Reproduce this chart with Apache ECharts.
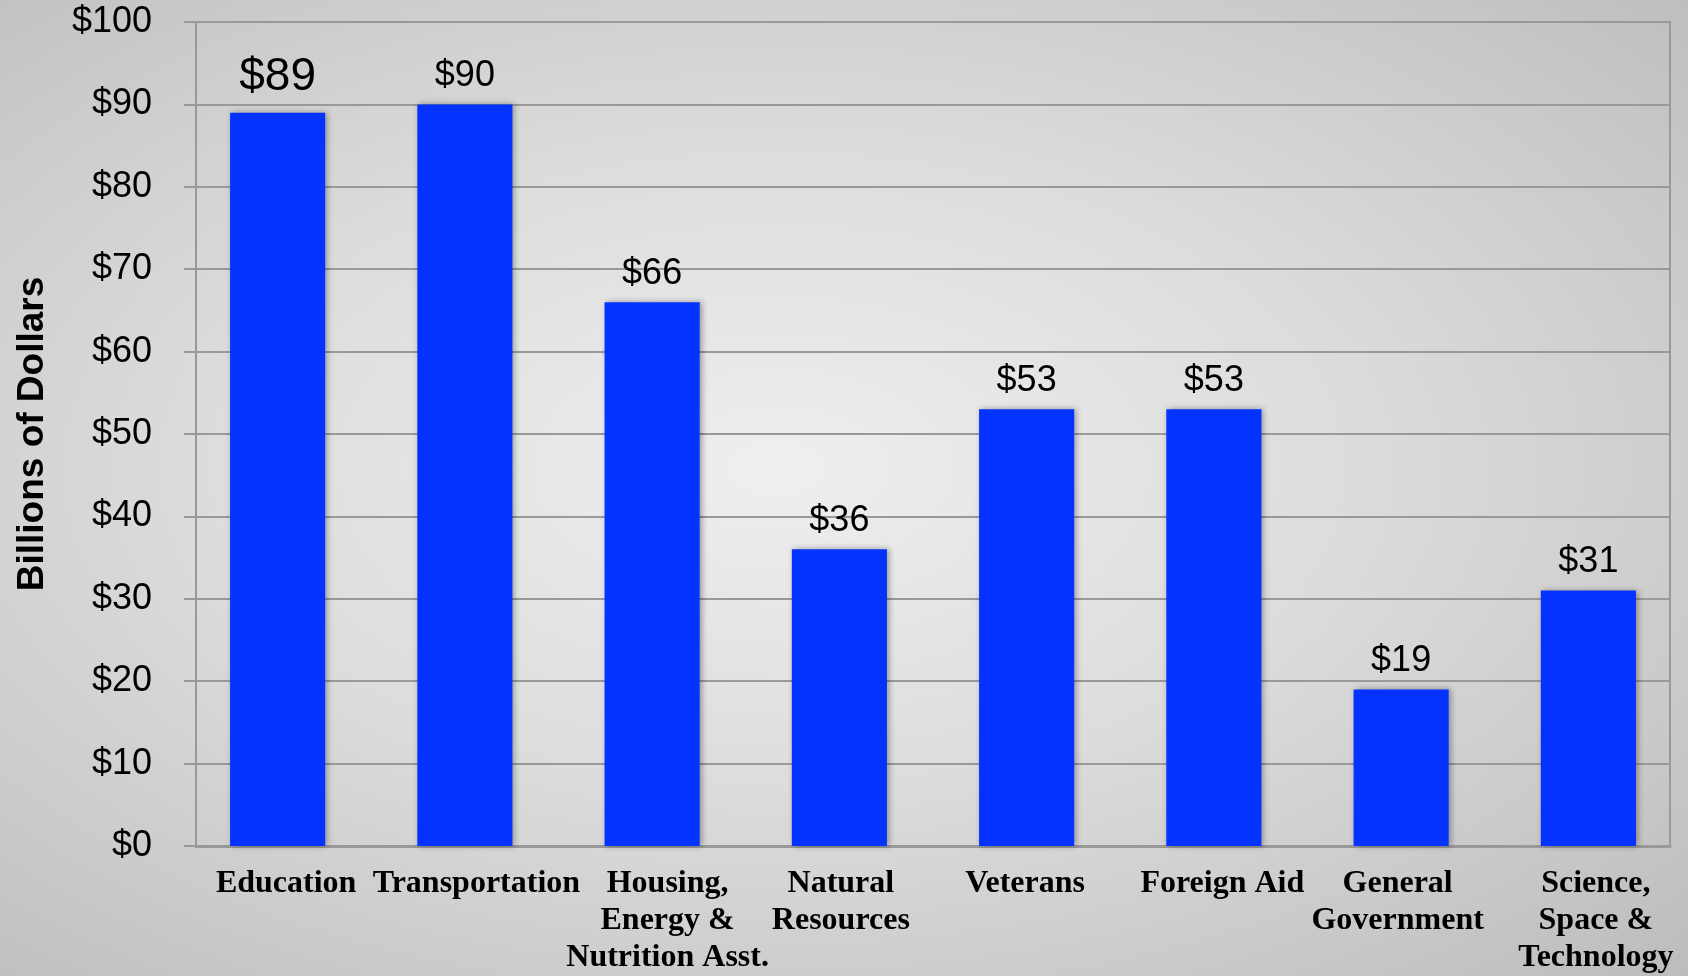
<!DOCTYPE html>
<html>
<head>
<meta charset="utf-8">
<script src="https://cdn.jsdelivr.net/npm/echarts@6/dist/echarts.min.js"></script>
<style>
  html, body { margin: 0; padding: 0; }
  #chart {
    width: 1688px; height: 976px;
    background: radial-gradient(ellipse farthest-corner at 46% 48%, #efefef 0%, #dcdcdc 45%, #bcbcbc 100%);
  }
</style>
</head>
<body>
<div id="chart"></div>
<script>
const categories = ['Education', 'Transportation', 'Housing,\nEnergy &\nNutrition Asst.', 'Natural\nResources', 'Veterans', 'Foreign Aid', 'General\nGovernment', 'Science,\nSpace &\nTechnology'];
const values = [89, 90, 66, 36, 53, 53, 19, 31];
const yAxisTitle = 'Billions of Dollars';
const yMin = 0, yMax = 100, yStep = 10;

const chart = echarts.init(document.getElementById('chart'), null, { renderer: 'canvas' });

const grey = '#999999';
const labelPads = [[0, 4, 0, 0], [0, 0, 0, 8], [0, 0, 0, 22], null, null, [0, 0, 0, 26], [0, 0, 0, 8], [0, 0, 0, 36]];
const catData = categories.map((c, i) => {
  const item = { value: c };
  if (labelPads[i]) item.textStyle = { padding: labelPads[i] };
  return item;
});

chart.setOption({
  backgroundColor: 'transparent',
  animation: false,
  grid: [
    { left: 196, right: 18, top: 22, bottom: 130, show: true, borderColor: grey, borderWidth: 2, backgroundColor: 'transparent' },
    { left: 184, right: 6, top: 22, bottom: 130 }
  ],
  xAxis: [
    {
      gridIndex: 0, type: 'category', data: catData,
      axisLine: { show: true, lineStyle: { color: grey, width: 3 } },
      axisTick: { show: false },
      axisLabel: {
        interval: 0, margin: 19,
        fontFamily: '"Liberation Serif", "Times New Roman", serif',
        fontWeight: 'bold', fontSize: 32, lineHeight: 37, color: '#000'
      }
    },
    {
      gridIndex: 1, type: 'category', data: categories,
      axisLine: { show: false }, axisTick: { show: false }, axisLabel: { show: false }
    }
  ],
  yAxis: [
    {
      gridIndex: 0, type: 'value', min: yMin, max: yMax, interval: yStep,
      name: yAxisTitle, nameLocation: 'middle', nameGap: 145, nameRotate: 90,
      nameTextStyle: { fontFamily: '"Liberation Sans", Arial, sans-serif', fontWeight: 'bold', fontSize: 37, color: '#000' },
      axisLine: { show: true, lineStyle: { color: grey, width: 2 } },
      axisTick: { show: true, length: 12, lineStyle: { color: grey, width: 2 } },
      axisLabel: {
        margin: 44, formatter: v => '$' + v,
        fontFamily: '"Liberation Sans", Arial, sans-serif', fontSize: 36, color: '#000'
      },
      splitLine: { show: true, lineStyle: { color: grey, width: 2 } }
    },
    {
      gridIndex: 1, type: 'value', min: yMin, max: yMax, interval: yStep,
      axisLine: { show: false }, axisTick: { show: false }, axisLabel: { show: false }, splitLine: { show: false }
    }
  ],
  series: [{
    type: 'bar',
    xAxisIndex: 1, yAxisIndex: 1,
    data: values.map((v, i) => i === 0 ? { value: v, label: { fontSize: 46, distance: 12 } } : v),
    barWidth: '50.8%',
    itemStyle: {
      color: '#0433ff',
      shadowColor: 'rgba(0,0,0,0.35)', shadowBlur: 6, shadowOffsetX: 2, shadowOffsetY: 0
    },
    label: {
      show: true, position: 'top', distance: 10,
      formatter: p => '$' + p.value,
      fontFamily: '"Liberation Sans", Arial, sans-serif', fontSize: 36, color: '#000'
    }
  }]
});
</script>
</body>
</html>
